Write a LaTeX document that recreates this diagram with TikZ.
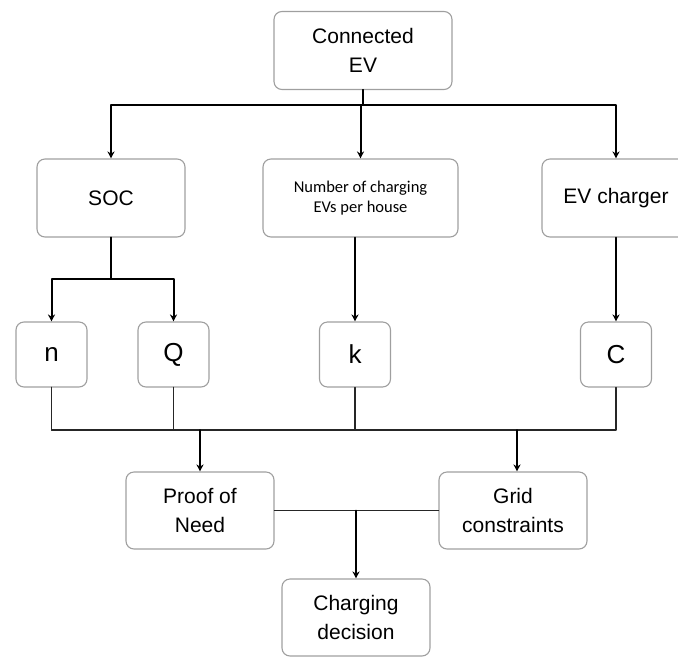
\documentclass[tikz,border=0pt]{standalone}
\usepackage{fontspec}
\setmainfont{Liberation Sans}
\newfontfamily\narrowfont{Carlito}
\usetikzlibrary{arrows.meta}
\begin{document}
\begin{tikzpicture}[font=\fontsize{21}{28.5}\selectfont,line join=round, line cap=round, >={Stealth[length=7pt,width=7pt]}, x=1pt, y=-1pt,
 box/.style={draw=gray!75,line width=1.1pt,rounded corners=8pt,align=center,inner sep=0pt,minimum height=78pt},
 wide/.style={box,minimum width=148pt},
 small/.style={box,minimum width=71pt,minimum height=65pt,font=\fontsize{26}{30}\selectfont},
 arr/.style={->,line width=2pt},
 bus/.style={line width=1.3pt,black!85}]
 \useasboundingbox (0,0) rectangle (678,657);
 \def \ytop{105}\def \ysoc{279}\def \ybus{430}
 \node[box,minimum width=178pt] (ev) at (363,50.5) {Connected\\EV};
 \node[wide] (soc) at (111,198) {SOC};
 \node[box,minimum width=195pt,font=\narrowfont\fontsize{16.5}{19.5}\selectfont] (num) at (360.5,198) {Number of charging\\EVs per house};
 \node[wide] (chg) at (616,198) {EV charger};
 \node[small] (n) at (51.5,354.5) {n};
 \node[small] (Q) at (173.5,354.5) {Q};
 \node[small] (k) at (355,354.5) {k};
 \node[small] (C) at (616,354.5) {C};
 \node[wide,minimum height=77pt] (pon) at (200,510.5) {Proof of\\Need};
 \node[wide,minimum height=77pt] (grid) at (513,510.5) {Grid\\constraints};
 \node[wide,minimum height=77pt] (dec) at (356,617.5) {Charging\\decision};
 \coordinate (bus) at (0,\ybus);
 \draw[arr] (ev.south) -- (ev.south |- 0,\ytop) -| (soc.north);
 \draw[arr] (ev.south) -- (ev.south |- 0,\ytop) -| (num.north);
 \draw[arr] (ev.south) -- (ev.south |- 0,\ytop) -| (chg.north);
 \draw[arr] (soc.south) -- (soc.south |- 0,\ysoc) -| (n.north);
 \draw[arr] (soc.south) -- (soc.south |- 0,\ysoc) -| (Q.north);
 \draw[arr] (k.north |- num.south) -- (k.north);
 \draw[arr] (chg.south) -- (C.north);
 \draw[bus] (n.south) -- (n.south |- bus) -| (C.south);
 \draw[bus,line width=1.8pt] (n.south) -- (n.south |- bus) (Q.south) -- (Q.south |- bus);
 \draw[bus] (k.south) -- (k.south |- bus);
 \draw[arr] (pon.north |- bus) -- (pon.north);
 \draw[arr] ([xshift=4pt]grid.north |- bus) -- ([xshift=4pt]grid.north);
 \draw[bus] (pon.east) -- (grid.west);
 \draw[arr] (dec.north |- pon.east) -- (dec.north);
\end{tikzpicture}
\end{document}
